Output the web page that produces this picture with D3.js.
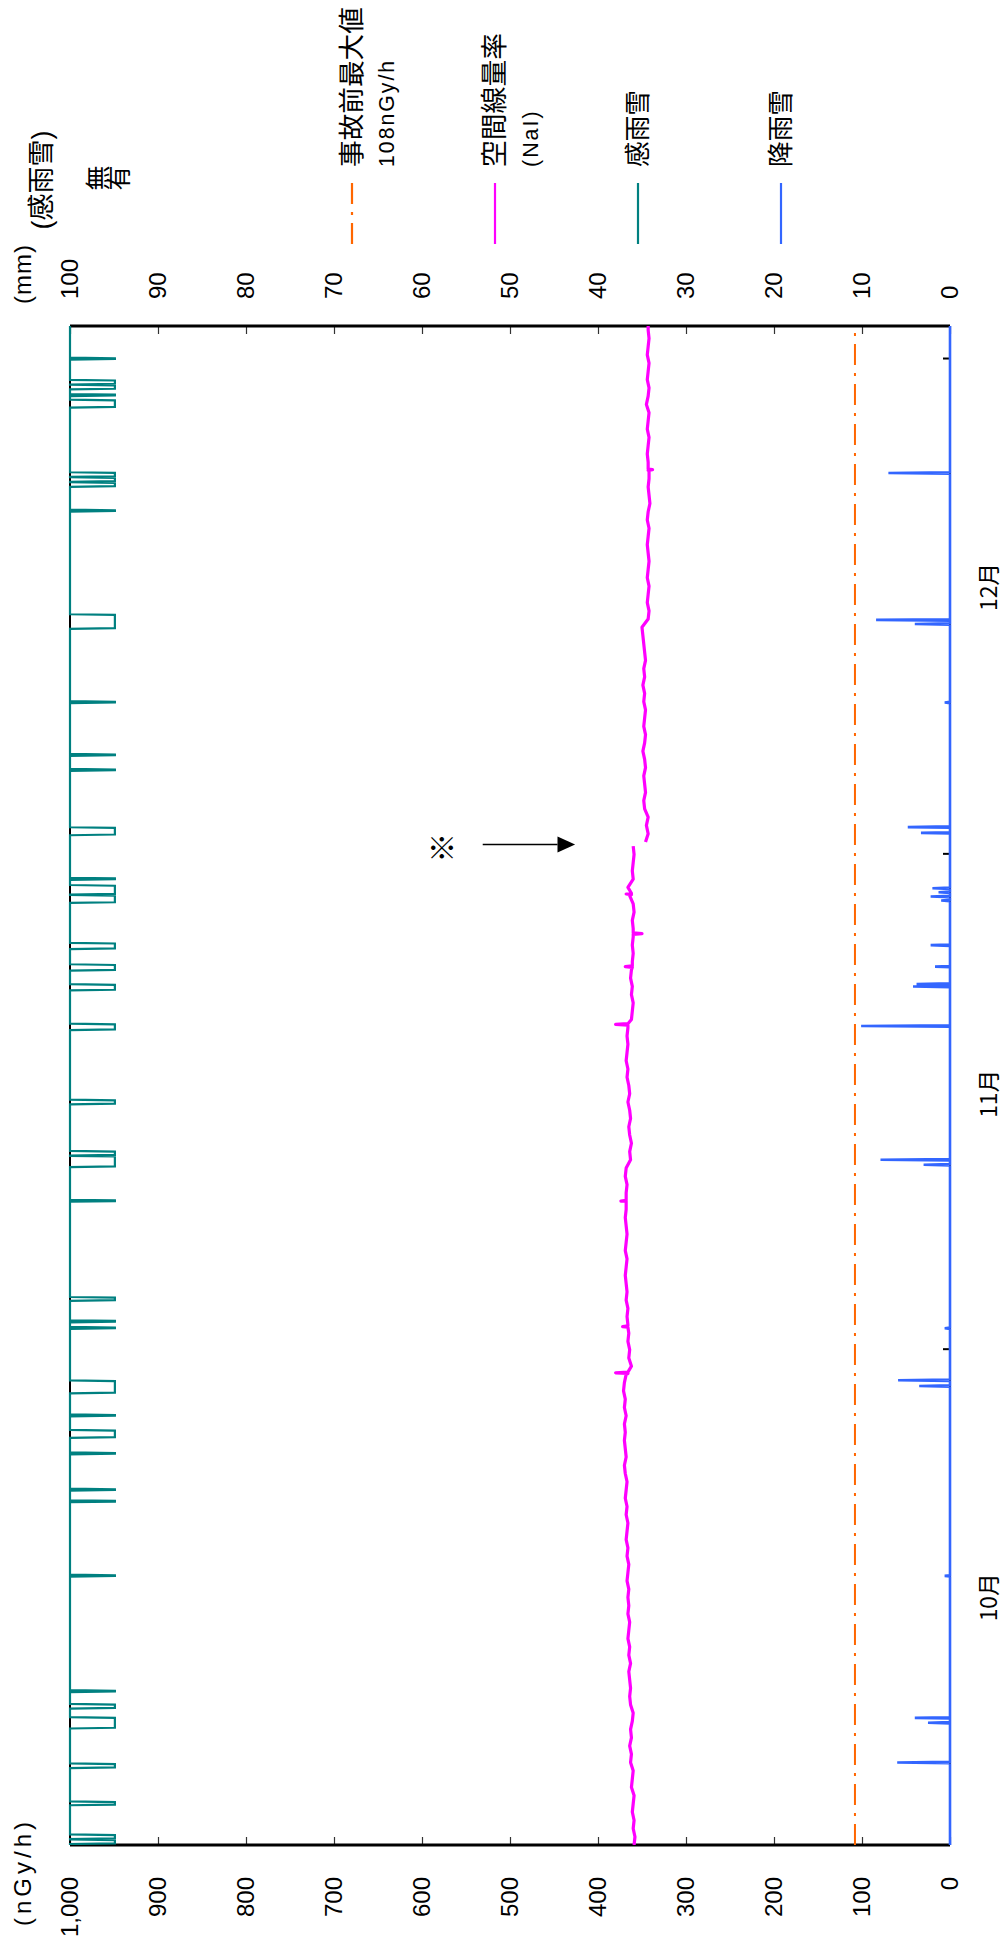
<!DOCTYPE html>
<html><head><meta charset="utf-8">
<script src="https://cdn.jsdelivr.net/npm/d3@7"></script>
<style>
body{margin:0;background:#fff}
text{font-family:"Liberation Sans","Noto Sans CJK JP",sans-serif;fill:#000}
.jp{font-family:"Noto Sans CJK JP","Liberation Sans",sans-serif}
</style>
</head><body>
<svg id="c" width="1006" height="1948"></svg>
<script>
// ---------- data ----------
const monthLabels = ["10月", "11月", "12月"];
const monthLabelDays = [15, 45.5, 76.2];
const monthTickDays = [30, 60, 90];
const dayDomain = [0, 92];
const doseTicks = [0, 100, 200, 300, 400, 500, 600, 700, 800, 900, 1000];
const mmTicks = [0, 10, 20, 30, 40, 50, 60, 70, 80, 90, 100];
const preAccidentMax = 108;

// air dose rate (nGy/h), one value every half day
const doseStep = 0.5;
const doseAStart = 0;
const doseA = [359,358,360,359,361,360,359,362,361,360,
  363,362,364,362,363,361,360,363,364,363,
  364,365,363,365,364,366,365,364,366,365,
  366,365,367,366,365,367,366,368,367,366,
  368,367,369,368,367,369,370,368,369,370,
  369,370,368,370,369,371,370,368,362,365,
  364,366,365,366,367,366,368,367,368,369,
  368,367,369,368,367,368,369,368,368,368,
  367,369,368,363,364,362,364,365,363,364,
  366,364,365,367,366,368,367,366,367,366,
  362,361,360,362,361,363,362,361,360,361,
  360,360,361,359,360,364,366,360,361,360,359,360];
const doseBStart = 60.75;
const doseB = [346,343,345,343,347,348,346,347,348,346,
  347,349,347,346,348,347,346,348,347,349,
  347,348,346,347,348,349,350,
  343,342,344,343,342,344,343,342,343,344,
  343,342,344,343,341,342,343,342,342,343,
  344,343,342,344,343,342,345,343,342,344,
  343,342,344,343,342,343,343];
// short excursions of the dose rate
const spikeDays = [28.6, 31.4, 39.0, 49.7, 53.2, 55.2, 57.6, 83.3];
const spikePeak = [380, 372, 374, 380, 369, 350, 368, 338];
const spikeBase = [366, 366, 368, 366, 361, 360, 362, 343];

// precipitation (mm) events
const rainDays = [5.0, 7.4, 7.7, 16.3, 27.8, 28.15, 31.3, 41.2, 41.5, 49.6, 52.0, 52.15, 53.2, 54.5, 57.2, 57.45, 57.7, 57.95, 61.3, 61.65, 69.2, 73.95, 74.2, 83.1];
const rainMm   = [6.0, 2.5, 4.0, 0.6, 3.5, 5.9, 0.6, 3.0, 7.9, 10.1, 4.2, 3.8, 1.7, 2.2, 1.0, 2.2, 1.3, 2.0, 3.3, 4.8, 0.6, 4.0, 8.4, 7.0];

// rain sensor (有) periods
const sensorStart = [0.1,0.4,2.45,4.7,7.1,8.3,9.3,16.3,20.8,21.5,23.7,24.7,26.0,27.4,31.3,31.7,33.0,39.0,41.1,41.8,44.9,49.4,51.8,53.0,54.3,57.1,57.6,58.5,61.2,65.1,66.0,69.2,73.7,80.8,82.3,82.6,82.9,87.1,87.8,88.2,88.5,90.0];
const sensorEnd   = [0.3,0.6,2.6,4.9,7.7,8.5,9.34,16.34,20.84,21.54,23.74,25.1,26.04,28.1,31.34,31.74,33.15,39.04,41.7,42.0,45.1,49.7,52.1,53.3,54.6,57.5,58.1,58.54,61.6,65.14,66.04,69.24,74.5,80.84,82.5,82.8,83.1,87.5,87.84,88.4,88.7,90.04];

const legendLabels = [["事故前最大値", "108nGy/h"], ["空間線量率", "(NaI)"], ["感雨雪"], ["降雨雪"]];
const noteMark = "※";
const noteDay = 60.6;

// ---------- helpers ----------
function fit(sel, target) {
  sel.each(function () {
    const fs = parseFloat(this.getAttribute("font-size"));
    const L = this.getComputedTextLength();
    if (L > 0) this.setAttribute("font-size", (fs * target / L).toFixed(2));
  });
  return sel;
}

// ---------- drawing ----------
const C = {orange: "#FF6600", magenta: "#FF00FF", teal: "#008080", blue: "#3366FF"};
const svg = d3.select("#c");
svg.append("rect").attr("width", 1006).attr("height", 1948).attr("fill", "#fff");
// chart drawn in its natural orientation, then turned 90° counter-clockwise
const g = svg.append("g").attr("transform", "translate(0,1948) rotate(-90)");
const m = {left: 103, right: 1622, top: 70, bottom: 950};

const t = d3.scaleLinear().domain(dayDomain).range([m.left, m.right]);
const yD = d3.scaleLinear().domain([0, 1000]).range([m.bottom, m.top]);
const yM = d3.scaleLinear().domain([0, 100]).range([m.bottom, m.top]);
const yS = d3.scaleLinear().domain([0, 1]).range([yM(100), yM(94.9)]);

g.append("clipPath").attr("id", "clip").append("rect")
  .attr("x", m.left).attr("y", m.top - 3).attr("width", m.right - m.left).attr("height", m.bottom - m.top + 6);

// axes
const axL = g.append("g").attr("transform", `translate(${m.left},0)`)
  .call(d3.axisLeft(yD).tickValues(doseTicks).tickSize(-8).tickPadding(32).tickFormat(d3.format(",")));
const axR = g.append("g").attr("transform", `translate(${m.right},0)`)
  .call(d3.axisRight(yM).tickValues(mmTicks).tickSize(-8).tickPadding(27).tickFormat(d3.format("d")));
const axB = g.append("g").attr("transform", `translate(0,${m.bottom})`)
  .call(d3.axisBottom(t).tickValues(monthTickDays).tickSize(-7).tickFormat(""));
[axL, axR, axB].forEach(a => {
  a.select(".domain").remove();
  a.selectAll(".tick line").attr("stroke", "#333").attr("stroke-width", 1.2);
  a.selectAll("text").attr("font-size", 24).attr("font-family", null).style("fill", "#000");
});
axB.selectAll(".tick line").attr("stroke", "#000").attr("stroke-width", 2);

// month labels
fit(g.selectAll(".mlab").data(monthLabels).join("text").attr("class", "mlab jp")
  .attr("x", (d, i) => t(monthLabelDays[i])).attr("y", 989).attr("dy", "0.35em")
  .attr("text-anchor", "middle").attr("font-size", 22).text(d => d), 48);

// frame
g.append("line").attr("x1", m.left).attr("x2", m.left).attr("y1", m.top).attr("y2", m.bottom).attr("stroke", "#000").attr("stroke-width", 3);
g.append("line").attr("x1", m.right).attr("x2", m.right).attr("y1", m.top).attr("y2", m.bottom).attr("stroke", "#000").attr("stroke-width", 3);
g.append("line").attr("x1", m.left).attr("x2", m.right).attr("y1", m.top).attr("y2", m.top).attr("stroke", "#000").attr("stroke-width", 2);
g.append("line").attr("x1", m.left).attr("x2", m.right).attr("y1", m.bottom).attr("y2", m.bottom).attr("stroke", "#000").attr("stroke-width", 2);

const plot = g.append("g").attr("clip-path", "url(#clip)");

// pre-accident maximum
plot.append("line").attr("x1", t(dayDomain[0])).attr("x2", t(dayDomain[1]))
  .attr("y1", yD(preAccidentMax)).attr("y2", yD(preAccidentMax))
  .attr("stroke", C.orange).attr("stroke-width", 2).attr("stroke-dasharray", "21,8,3,8");

// air dose rate
const hr = 1 / 24;
const doseLine = d3.line().x(d => t(d[0])).y(d => yD(d[1]));
function withSpikes(pts) {
  const lo = pts[0][0], hi = pts[pts.length - 1][0];
  const out = pts.slice();
  spikeDays.forEach((d, i) => {
    if (d > lo && d < hi) out.push([d - hr, spikeBase[i]], [d, spikePeak[i]], [d + hr, spikeBase[i]]);
  });
  return out.sort((a, b) => a[0] - b[0]);
}
const segA = withSpikes(doseA.map((v, i) => [doseAStart + i * doseStep, v]));
const segB = withSpikes(doseB.map((v, i) => [doseBStart + i * doseStep, v]));
[segA, segB].forEach(s => plot.append("path").attr("d", doseLine(s))
  .attr("fill", "none").attr("stroke", C.magenta).attr("stroke-width", 3.2).attr("stroke-linejoin", "round"));

// rain sensor
const sensorPts = [[dayDomain[0], 0]];
sensorStart.forEach((s, i) => { sensorPts.push([s - hr, 0], [s, 1], [sensorEnd[i], 1], [sensorEnd[i] + hr, 0]); });
sensorPts.push([dayDomain[1], 0]);
plot.append("path").attr("d", d3.line().x(d => t(d[0])).y(d => yS(d[1]))(sensorPts))
  .attr("fill", "none").attr("stroke", C.teal).attr("stroke-width", 2.2);

// precipitation
const rainPts = [[dayDomain[0], 0]];
rainDays.forEach((d, i) => { rainPts.push([d - hr, 0], [d, rainMm[i]], [d + hr, 0]); });
rainPts.push([dayDomain[1], 0]);
plot.append("path").attr("d", d3.line().x(d => t(d[0])).y(d => yM(d[1]))(rainPts))
  .attr("fill", "none").attr("stroke", C.blue).attr("stroke-width", 2.6);

// axis titles
g.append("text").attr("x", 22).attr("y", 23).attr("dy", "0.35em").attr("font-size", 24)
  .attr("letter-spacing", 4).text("(nGy/h)");
g.append("text").attr("x", 1644).attr("y", 23).attr("dy", "0.35em").attr("font-size", 24)
  .attr("letter-spacing", 1).text("(mm)");
const sensTitle = g.append("text").attr("x", 1768).attr("y", 42).attr("dy", "0.35em").attr("font-size", 27)
  .attr("text-anchor", "middle");
sensTitle.append("tspan").text("(");
sensTitle.append("tspan").attr("class", "jp").text("感雨雪");
sensTitle.append("tspan").text(")");
g.append("text").attr("class", "jp").attr("x", 1770).attr("y", 98).attr("dy", "0.35em").attr("font-size", 25)
  .attr("text-anchor", "middle").text("無");
g.append("text").attr("class", "jp").attr("x", 1770).attr("y", 119).attr("dy", "0.35em").attr("font-size", 25)
  .attr("text-anchor", "middle").text("有");

// legend
const legColors = [C.orange, C.magenta, C.teal, C.blue];
const legDash = ["21,8,3,8", null, null, null];
const legFirstLen = [160, 134, 77, 77];
const legSecondLen = [107, 57];
const lg = g.selectAll(".leg").data(legendLabels).join("g").attr("class", "leg")
  .attr("transform", (d, i) => `translate(0,${352 + i * 143})`);
lg.append("line").attr("x1", 1704).attr("x2", 1765).attr("y1", 0).attr("y2", 0)
  .attr("stroke", (d, i) => legColors[i]).attr("stroke-width", 2.2)
  .attr("stroke-dasharray", (d, i) => legDash[i]);
lg.each(function (d, i) {
  d.forEach((s, j) => {
    const tx = d3.select(this).append("text")
      .attr("x", 1781).attr("y", j * 35).attr("dy", "0.35em")
      .attr("font-size", j === 0 ? 26 : 23).attr("letter-spacing", j === 0 ? 0 : 2)
      .style("font-family", j === 0 ? '"Noto Sans CJK JP",sans-serif' : '"Liberation Sans",sans-serif')
      .text(s);
    fit(tx, j === 0 ? legFirstLen[i] : legSecondLen[i]);
  });
});

// note and arrow
g.append("text").attr("class", "jp").attr("x", t(noteDay - 0.2)).attr("y", yD(577)).attr("dy", "0.35em")
  .attr("text-anchor", "middle").attr("font-size", 30).text(noteMark);
g.append("line").attr("x1", t(noteDay)).attr("x2", t(noteDay)).attr("y1", yD(531)).attr("y2", yD(446))
  .attr("stroke", "#000").attr("stroke-width", 1.6);
g.append("path").attr("d", `M${t(noteDay) - 8},${yD(446)}L${t(noteDay) + 8},${yD(446)}L${t(noteDay)},${yD(426)}Z`)
  .attr("fill", "#000");
</script>
</body></html>
